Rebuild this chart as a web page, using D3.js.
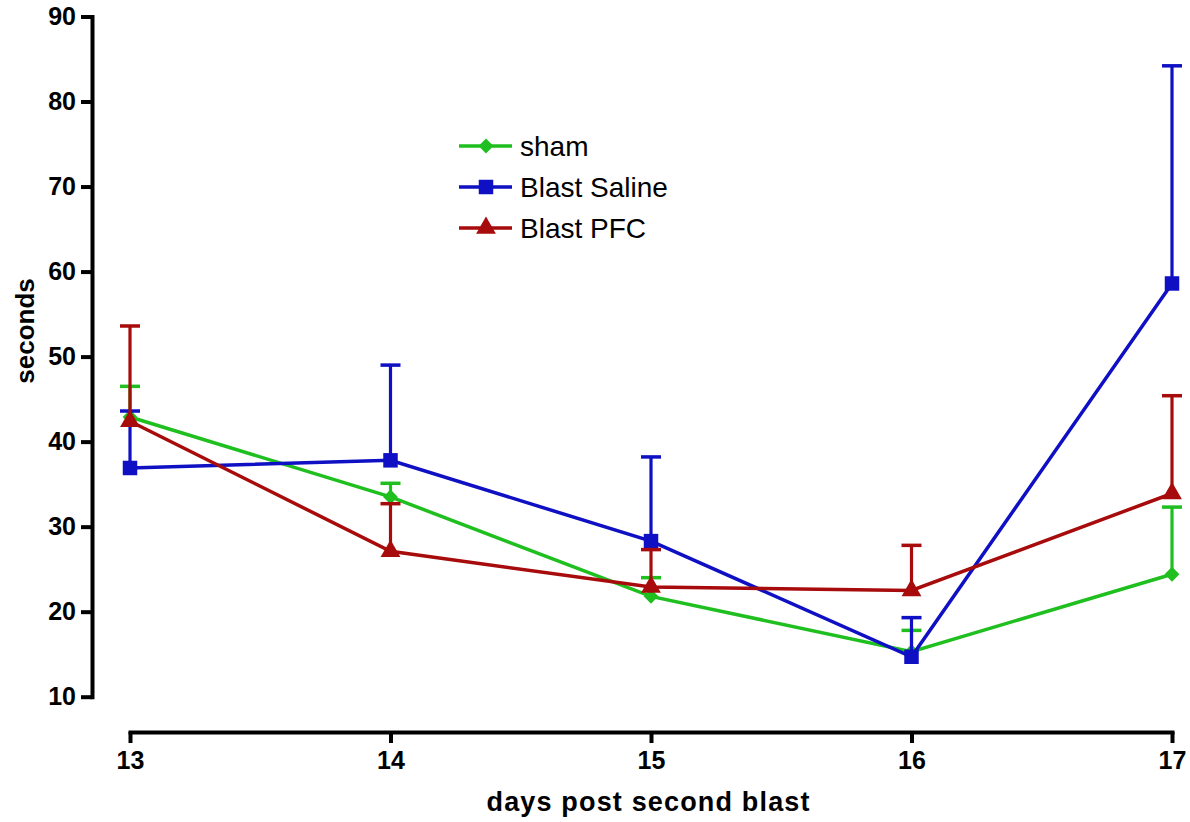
<!DOCTYPE html>
<html>
<head>
<meta charset="utf-8">
<script src="https://cdn.jsdelivr.net/npm/d3@7"></script>
<style>
  html, body { margin: 0; padding: 0; background: #fff; }
  svg { display: block; font-family: "Liberation Sans", Arial, sans-serif; }
</style>
</head>
<body>
<svg id="chart" width="1190" height="822"></svg>
<script>
const days = [13, 14, 15, 16, 17];
const yTicks = [10, 20, 30, 40, 50, 60, 70, 80, 90];
const seriesNames = ["sham", "Blast Saline", "Blast PFC"];
const shamMean = [42.9, 33.5, 21.8, 15.3, 24.4];
const shamSem = [3.6, 1.6, 2.2, 2.5, 7.9];
const salineMean = [36.9, 37.8, 28.3, 14.7, 58.6];
const salineSem = [6.7, 11.2, 9.9, 4.6, 25.6];
const pfcMean = [42.4, 27.1, 22.9, 22.5, 33.9];
const pfcSem = [11.2, 5.6, 4.4, 5.3, 11.5];
const colors = ["#1fbf1f", "#0f0fc3", "#a70b0b"];
const symbols = [d3.symbolSquare, d3.symbolSquare, d3.symbolTriangle];
const symRot = [45, 0, 0];
const symSizes = [110, 210, 170];

const series = [
  { name: seriesNames[0], mean: shamMean, sem: shamSem, color: colors[0], sym: symbols[0], rot: symRot[0], size: symSizes[0] },
  { name: seriesNames[1], mean: salineMean, sem: salineSem, color: colors[1], sym: symbols[1], rot: symRot[1], size: symSizes[1] },
  { name: seriesNames[2], mean: pfcMean, sem: pfcSem, color: colors[2], sym: symbols[2], rot: symRot[2], size: symSizes[2] }
];

const svg = d3.select("#chart");
const x = d3.scaleLinear().domain([13, 17]).range([130, 1172]);
const y = d3.scaleLinear().domain([10, 90]).range([696.7, 16.5]);

// Y axis
const yAxisX = 92;
const gy = svg.append("g").attr("transform", `translate(${yAxisX},0)`)
  .call(d3.axisLeft(y).tickValues(yTicks).tickSize(11).tickSizeOuter(0).tickPadding(5).tickFormat(d3.format("d")));
gy.select(".domain").attr("stroke", "#000").attr("stroke-width", 4).attr("stroke-linecap", "square");
gy.selectAll(".tick line").attr("stroke", "#000").attr("stroke-width", 4);
gy.selectAll(".tick text").attr("font-size", 25).attr("font-weight", "bold").attr("fill", "#000")
  .attr("font-family", "Liberation Sans, Arial, sans-serif");

// X axis
const xAxisY = 732;
const gx = svg.append("g").attr("transform", `translate(0,${xAxisY})`)
  .call(d3.axisBottom(x).tickValues(days).tickSize(11).tickSizeOuter(0).tickPadding(8).tickFormat(d3.format("d")));
gx.select(".domain").attr("stroke", "#000").attr("stroke-width", 4).attr("stroke-linecap", "square");
gx.selectAll(".tick line").attr("stroke", "#000").attr("stroke-width", 4);
gx.selectAll(".tick text").attr("font-size", 25).attr("font-weight", "bold").attr("fill", "#000")
  .attr("font-family", "Liberation Sans, Arial, sans-serif");

// Axis titles
svg.append("text")
  .attr("transform", "translate(34,331) rotate(-90)")
  .attr("text-anchor", "middle")
  .attr("font-size", 26).attr("font-weight", "bold")
  .text("seconds");
svg.append("text")
  .attr("x", 648).attr("y", 811)
  .attr("text-anchor", "middle")
  .attr("font-size", 27).attr("font-weight", "bold")
  .attr("textLength", 323).attr("lengthAdjust", "spacing")
  .text("days post second blast");

// Series (draw order: green, blue, red)
const line = d3.line().x((d, i) => x(days[i])).y(d => y(d));
series.forEach(s => {
  const g = svg.append("g");
  days.forEach((dv, i) => {
    const cx = x(dv), top = y(s.mean[i] + s.sem[i]), bot = y(s.mean[i]);
    g.append("line").attr("x1", cx).attr("x2", cx).attr("y1", top).attr("y2", bot)
      .attr("stroke", s.color).attr("stroke-width", 3.2);
    g.append("line").attr("x1", cx - 10).attr("x2", cx + 10).attr("y1", top).attr("y2", top)
      .attr("stroke", s.color).attr("stroke-width", 3.5);
  });
  g.append("path").datum(s.mean).attr("d", line)
    .attr("fill", "none").attr("stroke", s.color).attr("stroke-width", 3.5);
  g.selectAll("path.mk").data(s.mean).enter().append("path").attr("class", "mk")
    .attr("transform", (d, i) => `translate(${x(days[i])},${y(d)}) rotate(${s.rot})`)
    .attr("d", d3.symbol().type(s.sym).size(s.size))
    .attr("fill", s.color);
});

// Legend
const legX1 = 459, legX2 = 512, legMk = 486, legText = 520;
const legY = [146, 187, 228];
series.forEach((s, i) => {
  const g = svg.append("g");
  g.append("line").attr("x1", legX1).attr("x2", legX2).attr("y1", legY[i]).attr("y2", legY[i])
    .attr("stroke", s.color).attr("stroke-width", 3.5);
  g.append("path").attr("transform", `translate(${legMk},${legY[i]}) rotate(${s.rot})`)
    .attr("d", d3.symbol().type(s.sym).size(s.size)).attr("fill", s.color);
  g.append("text").attr("x", legText).attr("y", legY[i]).attr("dy", "0.36em")
    .attr("font-size", 28).attr("fill", "#000").text(s.name);
});
</script>
</body>
</html>
